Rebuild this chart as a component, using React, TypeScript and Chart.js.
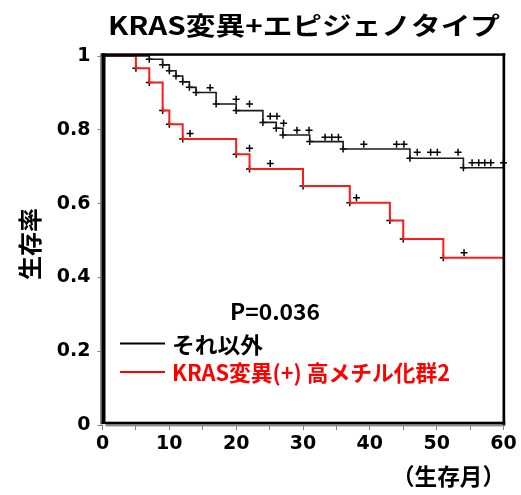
import React, { useEffect, useRef } from 'react';
import { Chart, registerables } from 'chart.js';

Chart.register(...registerables);

// ---- text ----
const titleText = 'KRAS変異+エピジェノタイプ';
const yAxisTitle = '生存率';
const xAxisTitle = '（生存月）';
const pValueText = 'P=0.036';
const seriesNames = ['それ以外', 'KRAS変異(+) 高メチル化群2'];

// ---- ticks ----
const yTickValues = [0, 0.2, 0.4, 0.6, 0.8, 1];
const yTickLabels = ['0', '0.2', '0.4', '0.6', '0.8', '1'];
const xTickValues = [0, 5, 10, 15, 20, 25, 30, 35, 40, 45, 50, 55, 60];
const xTickLabels = ['0', '', '10', '', '20', '', '30', '', '40', '', '50', '', '60'];

// ---- series 1: それ以外 (black) ----
const otherTimes = [0, 7, 9, 10, 11, 12, 13, 14, 17, 20, 24, 26, 27, 31, 36, 46, 54, 60];
const otherSurv = [1, 0.991, 0.976, 0.96, 0.946, 0.93, 0.915, 0.901, 0.87, 0.852, 0.82, 0.804, 0.786, 0.768, 0.748, 0.723, 0.697, 0.697];
const otherCensorTimes = [16.1, 20, 22, 25.1, 26.1, 27.1, 29.1, 30.9, 33.3, 34.3, 35.3, 39.1, 44, 45.1, 47.1, 49.1, 50.1, 53.2, 55.3, 56.3, 57.2, 58.1, 60];
const otherCensorSurv = [0.914, 0.883, 0.87, 0.837, 0.837, 0.818, 0.799, 0.799, 0.78, 0.78, 0.78, 0.761, 0.761, 0.761, 0.739, 0.739, 0.739, 0.739, 0.711, 0.711, 0.711, 0.711, 0.711];

// ---- series 2: KRAS変異(+) 高メチル化群2 (red) ----
const krasTimes = [0, 5, 7, 9, 10, 12, 20, 22, 30, 37, 43, 45, 51, 60];
const krasSurv = [1, 0.967, 0.928, 0.852, 0.815, 0.775, 0.734, 0.694, 0.648, 0.602, 0.554, 0.504, 0.453, 0.453];
const krasCensorTimes = [13.1, 22, 25.1, 38, 54.1];
const krasCensorSurv = [0.79, 0.75, 0.709, 0.616, 0.467];

const FONT_CJK = "'Noto Sans CJK JP', 'Noto Sans', sans-serif";

function pts(xs: number[], ys: number[]) {
  return xs.map((x, i) => ({ x, y: ys[i] }));
}

function fitText(ctx: CanvasRenderingContext2D, text: string, left: number, cy: number, font: string, width: number, color: string) {
  ctx.save();
  ctx.font = font;
  const w = ctx.measureText(text).width;
  const s = w > 0 ? width / w : 1;
  ctx.translate(left, cy);
  ctx.scale(s, 1);
  ctx.fillStyle = color;
  ctx.textAlign = 'left';
  ctx.textBaseline = 'middle';
  ctx.fillText(text, 0, 0);
  ctx.restore();
}

const framePlugin = {
  id: 'frame',
  afterDatasetsDraw(chart: any) {
    const ctx: CanvasRenderingContext2D = chart.ctx;
    const a = chart.chartArea;
    ctx.save();
    ctx.fillStyle = '#8a8a8a';
    ctx.fillRect(a.left - 2.5, a.top - 2.5, 1.6, a.bottom - a.top + 2);
    ctx.fillRect(a.left + 3, a.bottom - 1, a.right - a.left - 1, 2.4);
    ctx.fillStyle = '#000';
    ctx.fillRect(a.left - 1, a.top - 2.7, 4, a.bottom - a.top + 1.5);
    ctx.fillRect(a.left - 1, a.top - 2.7, a.right - a.left + 2.8, 2.5);
    ctx.fillRect(a.right - 1, a.top - 2.7, 2.7, a.bottom - a.top + 2.5);
    ctx.fillRect(a.left - 1, a.bottom - 3.3, a.right - a.left + 2.8, 2.4);
    ctx.restore();
  },
  afterDraw(chart: any) {
    const ctx: CanvasRenderingContext2D = chart.ctx;
    // title
    fitText(ctx, titleText, 108, 25, `bold 25px ${FONT_CJK}`, 392, '#000');
    // p-value
    fitText(ctx, pValueText, 230, 312, `bold 22px ${FONT_CJK}`, 90, '#000');
    // legend
    ctx.save();
    ctx.lineWidth = 2;
    ctx.strokeStyle = '#000';
    ctx.beginPath(); ctx.moveTo(120, 343.5); ctx.lineTo(165, 343.5); ctx.stroke();
    ctx.strokeStyle = '#ff0000';
    ctx.beginPath(); ctx.moveTo(120, 372); ctx.lineTo(165, 372); ctx.stroke();
    ctx.restore();
    fitText(ctx, seriesNames[0], 172, 345, `bold 22px ${FONT_CJK}`, 91, '#000');
    fitText(ctx, seriesNames[1], 172, 373, `bold 22px ${FONT_CJK}`, 278, '#ff0000');
    // x axis title
    fitText(ctx, xAxisTitle, 392, 476, `bold 23px ${FONT_CJK}`, 113, '#000');
    // y axis title (rotated)
    ctx.save();
    ctx.translate(30, 244);
    ctx.rotate(-Math.PI / 2);
    fitText(ctx, yAxisTitle, -36, 0, `bold 24px ${FONT_CJK}`, 72, '#000');
    ctx.restore();
  },
};

export default function App() {
  const ref = useRef<HTMLCanvasElement | null>(null);
  useEffect(() => {
    if (!ref.current) return;
    const markerStyle = {
      showLine: false,
      pointStyle: 'cross',
      pointRadius: 3.5,
      pointBorderWidth: 1.5,
      pointBorderColor: '#000',
      pointBackgroundColor: '#000',
      pointHoverRadius: 3.5,
    };
    const chart = new Chart(ref.current, {
      type: 'line',
      data: {
        datasets: [
          {
            label: seriesNames[0],
            data: pts(otherTimes, otherSurv),
            stepped: true,
            borderColor: '#1a1a1a',
            borderWidth: 1.6,
            pointRadius: 0,
            fill: false,
            clip: 6,
          },
          {
            label: seriesNames[1],
            data: pts(krasTimes, krasSurv),
            stepped: true,
            borderColor: '#ff1a1a',
            borderWidth: 2,
            pointRadius: 0,
            fill: false,
            clip: 6,
          },
          {
            label: 'events-other',
            data: pts(otherTimes.slice(1, -1), otherSurv.slice(1, -1)),
            ...markerStyle,
            clip: 6,
          },
          {
            label: 'events-kras',
            data: pts(krasTimes.slice(1, -1), krasSurv.slice(1, -1)),
            ...markerStyle,
            clip: 6,
          },
          {
            label: 'censor-other',
            data: pts(otherCensorTimes, otherCensorSurv),
            ...markerStyle,
            clip: 6,
          },
          {
            label: 'censor-kras',
            data: pts(krasCensorTimes, krasCensorSurv),
            ...markerStyle,
            clip: 6,
          },
        ] as any,
      },
      options: {
        responsive: false,
        animation: false,
        events: [],
        layout: { padding: { top: 56, right: 17.5, left: 0, bottom: 0 } },
        plugins: {
          legend: { display: false },
          title: { display: false },
          tooltip: { enabled: false },
        },
        scales: {
          x: {
            type: 'linear',
            min: 0,
            max: 60,
            afterBuildTicks: (scale: any) => {
              scale.ticks = xTickValues.map((v) => ({ value: v }));
            },
            afterFit: (scale: any) => {
              scale.height = 70;
            },
            border: { display: false },
            grid: { drawOnChartArea: false, drawTicks: true, tickLength: 5, color: '#808080', tickColor: '#808080' },
            ticks: {
              autoSkip: false,
              maxRotation: 0,
              padding: 3,
              color: '#000',
              font: { family: "'DejaVu Sans', sans-serif", weight: 'bold', size: 19 },
              callback: (_v: any, i: number) => xTickLabels[i],
            },
          },
          y: {
            type: 'linear',
            min: 0,
            max: 1,
            afterBuildTicks: (scale: any) => {
              scale.ticks = yTickValues.map((v) => ({ value: v }));
            },
            afterFit: (scale: any) => {
              scale.width = 102.5;
            },
            border: { display: false },
            grid: { drawOnChartArea: false, drawTicks: true, tickLength: 5, color: '#808080', tickColor: '#808080' },
            ticks: {
              autoSkip: false,
              padding: 7,
              color: '#000',
              font: { family: "'DejaVu Sans', sans-serif", weight: 'bold', size: 19 },
              callback: (_v: any, i: number) => yTickLabels[i],
            },
          },
        },
      } as any,
      plugins: [framePlugin],
    });
    return () => chart.destroy();
  }, []);

  return (
    <div style={{ position: 'fixed', left: 0, top: 0, width: 521, height: 495, background: '#fff' }}>
      <canvas ref={ref} width={521} height={495} style={{ width: 521, height: 495, display: 'block' }} />
    </div>
  );
}
